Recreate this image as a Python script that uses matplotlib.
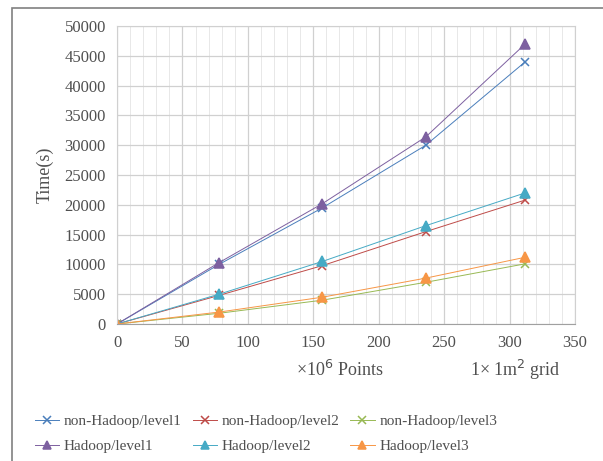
import matplotlib
matplotlib.use("Agg")
import matplotlib.pyplot as plt
from matplotlib.patches import Rectangle
from matplotlib.ticker import MultipleLocator

plt.rcParams['font.family'] = ['Liberation Serif', 'DejaVu Serif']

x = [0, 78, 157, 236, 312]
series = {
    'non-Hadoop/level1': [0, 10000, 19500, 30000, 44000],
    'non-Hadoop/level2': [0, 4800, 9800, 15500, 20800],
    'non-Hadoop/level3': [0, 1800, 4000, 7000, 10100],
    'Hadoop/level1': [0, 10300, 20200, 31400, 47000],
    'Hadoop/level2': [0, 5000, 10500, 16500, 22000],
    'Hadoop/level3': [0, 2000, 4500, 7700, 11200],
}
colors = ['#4A7EBB', '#BE4B48', '#98B954', '#7D60A0', '#46AAC5', '#F79646']
markers = ['x', 'x', 'x', '^', '^', '^']

fig = plt.figure(figsize=(6.03, 4.61), dpi=100)
ax = fig.add_axes([117 / 603, 1 - 324 / 461, 458 / 603, 298 / 461])

handles = []
for (name, vals), c, m in zip(series.items(), colors, markers):
    h, = ax.plot(x, vals, color=c, marker=m, lw=0.7, ms=7 if m == '^' else 6,
                 mew=1.1, label=name)
    handles.append(h)

ax.set_xlim(0, 350)
ax.set_ylim(0, 50000)
ax.xaxis.set_major_locator(MultipleLocator(50))
ax.xaxis.set_minor_locator(MultipleLocator(10))
ax.yaxis.set_major_locator(MultipleLocator(5000))
ax.grid(which='major', color='#D0D0D0', lw=0.9)
ax.grid(which='minor', axis='x', color='#E8E8E8', lw=0.7)
ax.set_axisbelow(True)
for s in ['top', 'right', 'left']:
    ax.spines[s].set_color('#D0D0D0')
ax.spines['bottom'].set_color('#A0A0A0')
ax.tick_params(which='both', length=0, labelsize=12, colors='#505050', pad=8)

fig.text(45 / 603, 1 - 175 / 461, 'Time(s)', rotation=90, ha='center',
         va='center', fontsize=13, color='#505050')
fig.text(340 / 603, 1 - 370 / 461, '×10$^6$ Points', ha='center', va='center',
         fontsize=13, color='#505050')
fig.text(515 / 603, 1 - 370 / 461, '1× 1m$^2$ grid', ha='center', va='center',
         fontsize=13, color='#505050')

# legend fills column by column, so reorder to read row by row
order = [0, 3, 1, 4, 2, 5]
fig.legend([handles[i] for i in order], [handles[i].get_label() for i in order],
           loc='center', bbox_to_anchor=(266 / 603, 1 - 434 / 461), ncol=3,
           frameon=False, fontsize=11, handlelength=1.6, handletextpad=0.3,
           columnspacing=0.7, labelspacing=0.75, labelcolor='#505050',
           markerscale=0.85)

fig.patches.append(Rectangle((12 / 603, -0.1), 1.2, 1 - 8 / 461 + 0.1,
                             transform=fig.transFigure, fill=False,
                             edgecolor='#808080', lw=1.2))

fig.savefig('out.png', dpi=100)
